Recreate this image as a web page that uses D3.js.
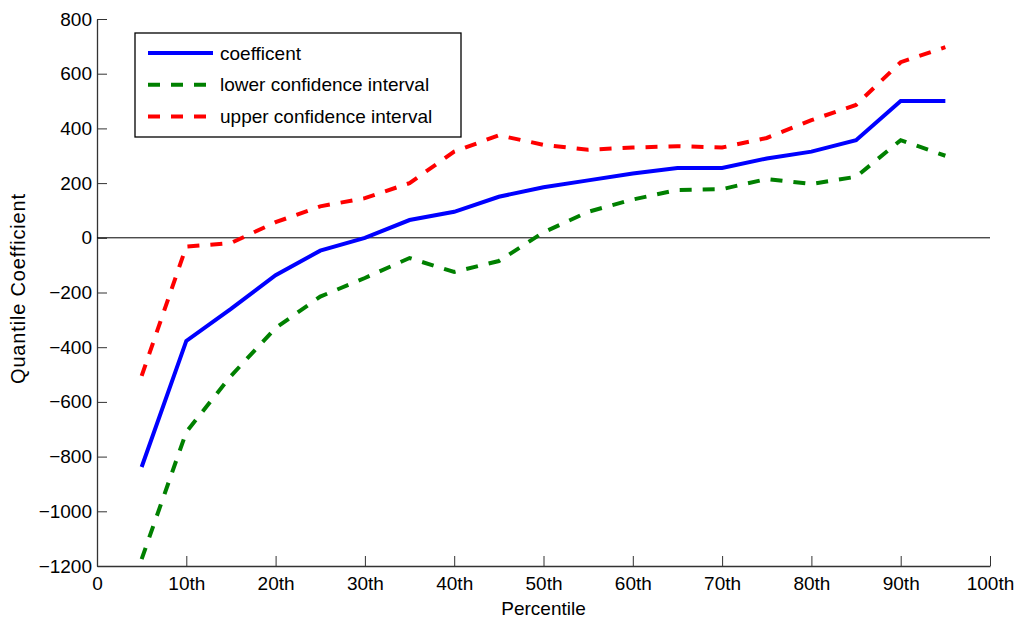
<!DOCTYPE html>
<html>
<head>
<meta charset="utf-8">
<script src="https://cdn.jsdelivr.net/npm/d3@7"></script>
<style>
  body { margin: 0; background: #fff; }
  svg { display: block; font-family: "Liberation Sans", Arial, sans-serif; }
  .axis path, .axis line { stroke: #333; }
  .axis text { font-size: 19px; fill: #000; font-family: "Liberation Sans", Arial, sans-serif; }
</style>
</head>
<body>
<div id="chart"></div>
<script>
let width = 1018;
let height = 622;
let padding = { left: 97, right: 28, top: 19, bottom: 56 };

// percentiles
let percentiles = [5, 10, 15, 20, 25, 30, 35, 40, 45, 50, 55, 60, 65, 70, 75, 80, 85, 90, 95];
let coefficent = [-838, -377, -260, -137, -47, 0, 65, 95, 150, 185, 210, 235, 255, 255, 290, 315, 357, 500, 500];
let lowerCI = [-1175, -710, -505, -330, -215, -147, -74, -125, -85, 20, 95, 140, 175, 178, 215, 197, 223, 357, 300];
let upperCI = [-505, -32, -19, 57, 115, 145, 200, 315, 375, 340, 322, 330, 335, 330, 365, 430, 486, 642, 697];

let xTicks = [0, 10, 20, 30, 40, 50, 60, 70, 80, 90, 100];
let xTickLabels = ['0', '10th', '20th', '30th', '40th', '50th', '60th', '70th', '80th', '90th', '100th'];
let yTicks = [-1200, -1000, -800, -600, -400, -200, 0, 200, 400, 600, 800];

let series = [
    { name: 'coefficent', values: coefficent, color: '#0000ff', dash: null },
    { name: 'lower confidence interval', values: lowerCI, color: '#008000', dash: '12,11' },
    { name: 'upper confidence interval', values: upperCI, color: '#ff0000', dash: '12,11' }
];

let svg = d3.select('#chart').append('svg')
    .attr('width', width).attr('height', height);

let xScale = d3.scaleLinear()
    .domain([0, 100])
    .range([padding.left, width - padding.right]);
let yScale = d3.scaleLinear()
    .domain([-1200, 800])
    .range([height - padding.bottom, padding.top]);

// axes (ticks point inward, MATLAB style)
let xAxis = d3.axisBottom(xScale)
    .tickValues(xTicks)
    .tickFormat((d, i) => xTickLabels[i])
    .tickSizeInner(-10).tickSizeOuter(0).tickPadding(11);
let yAxis = d3.axisLeft(yScale)
    .tickValues(yTicks)
    .tickFormat(d => d < 0 ? '\u2212' + Math.abs(d) : d)
    .tickSizeInner(-10).tickSizeOuter(0).tickPadding(5);

svg.append('g')
    .attr('class', 'axis')
    .attr('transform', 'translate(0,' + (height - padding.bottom) + ')')
    .call(xAxis)
    .call(g => g.select('.domain').attr('stroke-width', 1.3));
svg.append('g')
    .attr('class', 'axis')
    .attr('transform', 'translate(' + padding.left + ',0)')
    .call(yAxis)
    .call(g => g.select('.domain').attr('stroke-width', 1.3));

// zero line
svg.append('line')
    .attr('x1', xScale(0)).attr('x2', xScale(100))
    .attr('y1', yScale(0)).attr('y2', yScale(0))
    .attr('stroke', '#000').attr('stroke-width', 1);

let line = d3.line()
    .x((d, i) => xScale(percentiles[i]))
    .y(d => yScale(d));

series.forEach(s => {
    svg.append('path')
        .datum(s.values)
        .attr('d', line)
        .attr('fill', 'none')
        .attr('stroke', s.color)
        .attr('stroke-width', 4)
        .attr('stroke-dasharray', s.dash);
});

// axis labels
svg.append('text')
    .attr('x', (xScale(0) + xScale(100)) / 2)
    .attr('y', 615)
    .attr('text-anchor', 'middle')
    .style('font-size', '19px')
    .text('Percentile');
svg.append('text')
    .attr('transform', 'translate(25,289) rotate(-90)')
    .attr('text-anchor', 'middle')
    .style('font-size', '20px')
    .attr('textLength', 190)
    .text('Quantile Coefficient');

// legend
let legend = svg.append('g').attr('transform', 'translate(135,33)');
legend.append('rect')
    .attr('width', 326).attr('height', 104)
    .attr('fill', '#fff').attr('stroke', '#000').attr('stroke-width', 1.3);
series.forEach((s, i) => {
    let y = 20 + i * 31.7;
    legend.append('line')
        .attr('x1', 13).attr('x2', 78)
        .attr('y1', y).attr('y2', y)
        .attr('stroke', s.color).attr('stroke-width', 4)
        .attr('stroke-dasharray', s.dash);
    legend.append('text')
        .attr('x', 85).attr('y', y)
        .attr('dy', '0.35em')
        .style('font-size', '19px')
        .text(s.name);
});
</script>
</body>
</html>
